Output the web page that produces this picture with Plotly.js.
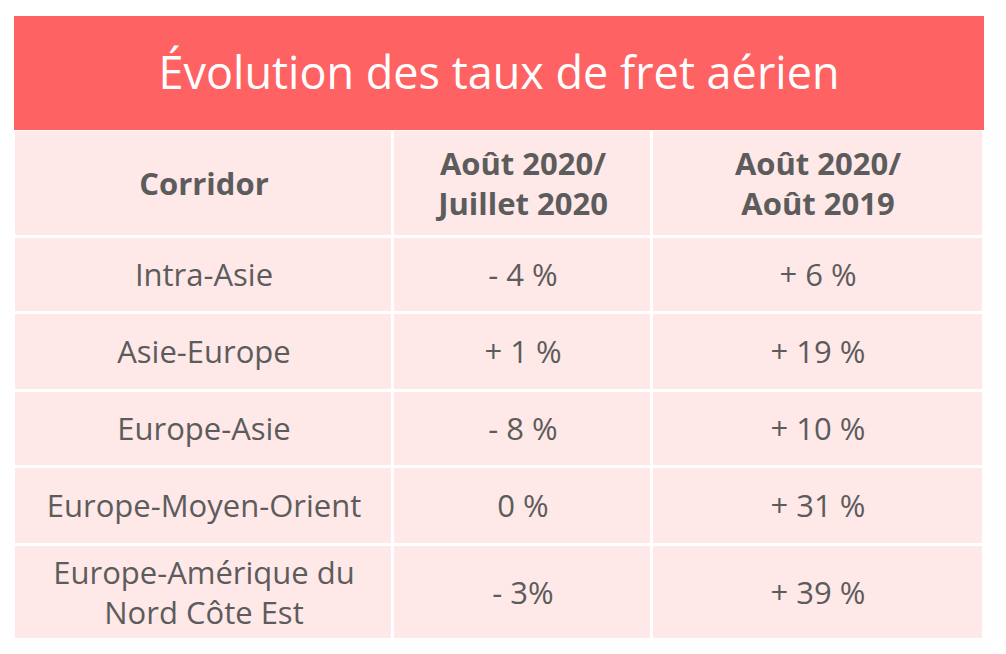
<!DOCTYPE html>
<html>
<head>
<meta charset="utf-8">
<script src="https://cdn.plot.ly/plotly-3.0.1.min.js"></script>
<style>html,body{margin:0;padding:0;background:#fff;}#chart{width:1006px;height:654px;}</style>
</head>
<body>
<div id="chart"></div>
<script>
// ---- data ----
var tableTitle = "Évolution des taux de fret aérien";
var headers = ["Corridor", "Août 2020/<br>Juillet 2020", "Août 2020/<br>Août 2019"];
var corridors = ["Intra-Asie", "Asie-Europe", "Europe-Asie", "Europe-Moyen-Orient", "Europe-Amérique du<br>Nord Côte Est"];
var augVsJul2020 = ["- 4 %", "+ 1 %", "- 8 %", "0 %", "- 3%"];
var augVsAug2019 = ["+ 6 %", "+ 19 %", "+ 10 %", "+ 31 %", "+ 39 %"];

// ---- layout geometry (pixel grid) ----
var colEdges = [14, 393, 652, 984];
var rowEdges = [130, 237, 313, 391, 467, 545, 640];
var titleEdges = [16, 130];

var pink = "#FFE8E8", red = "#FF6262", textGray = "#5C5C5C";
var font = "'Open Sans', 'Noto Sans', sans-serif";

var text = [headers.map(function(h){ return "<b>" + h + "</b>"; })];
var z = [[0, 0, 0]];
for (var i = 0; i < corridors.length; i++) {
  text.push([corridors[i], augVsJul2020[i], augVsAug2019[i]]);
  z.push([0, 0, 0]);
}

var body = {
  type: "heatmap",
  x: colEdges, y: rowEdges, z: z,
  text: text, texttemplate: "%{text}",
  textfont: {family: font, size: 31, color: textGray},
  colorscale: [[0, pink], [1, pink]], zmin: 0, zmax: 1,
  showscale: false, xgap: 3, ygap: 3, hoverinfo: "skip"
};
var titleBand = {
  type: "heatmap",
  x: [colEdges[0], colEdges[colEdges.length - 1]], y: titleEdges, z: [[0]],
  text: [[tableTitle]], texttemplate: "%{text}",
  textfont: {family: font, size: 45, color: "#FFFFFF"},
  colorscale: [[0, red], [1, red]], zmin: 0, zmax: 1,
  showscale: false, hoverinfo: "skip"
};

var layout = {
  width: 1006, height: 654,
  margin: {l: 0, r: 0, t: 0, b: 0},
  paper_bgcolor: "#FFFFFF", plot_bgcolor: "#FFFFFF",
  xaxis: {range: [0, 1006], visible: false, fixedrange: true},
  yaxis: {range: [654, 0], visible: false, fixedrange: true},
  showlegend: false
};
Plotly.newPlot("chart", [body, titleBand], layout, {displayModeBar: false, staticPlot: true});
</script>
</body>
</html>
